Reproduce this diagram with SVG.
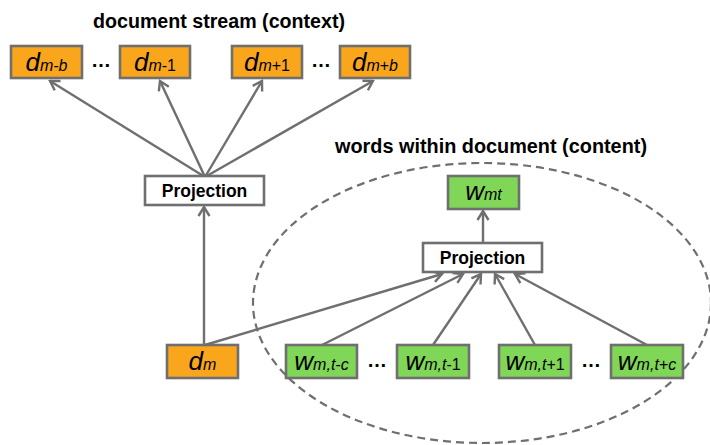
<svg xmlns="http://www.w3.org/2000/svg" width="710" height="445" viewBox="0 0 710 445">
<style>
.box{stroke:#6f6f6f;stroke-width:2.6}
.or{fill:#f9a61c}
.gr{fill:#80d657}
.wh{fill:#ffffff}
.lbl{font-family:"Liberation Sans",Arial,sans-serif;fill:#000}
.title{font-family:"Liberation Sans",Arial,sans-serif;font-weight:bold;font-size:19.5px;fill:#000}
.proj{font-family:"Liberation Sans",Arial,sans-serif;font-weight:bold;font-size:17.5px;fill:#000;text-anchor:middle}
.big{font-style:italic;font-size:26px}
.sub{font-size:16px}
.it{font-style:italic}
.dots{font-family:"Liberation Sans",Arial,sans-serif;font-size:20px;font-weight:bold;text-anchor:middle;fill:#000}
.conn line{stroke:#6f6f6f;stroke-width:2.4;marker-end:url(#arr)}
</style>
<defs>
<marker id="arr" markerUnits="userSpaceOnUse" viewBox="-12 -8 14 16" markerWidth="14" markerHeight="16" refX="0" refY="0" orient="auto">
<path d="M-9,-5.5 L0,0 L-9,5.5" fill="none" stroke="#6f6f6f" stroke-width="2.4"/>
</marker>
</defs>

<ellipse cx="482" cy="303" rx="229" ry="140" fill="none" stroke="#6f6f6f" stroke-width="2.2" stroke-dasharray="8,5"/>

<text class="title" x="93" y="28" textLength="252" lengthAdjust="spacingAndGlyphs">document stream (context)</text>
<text class="title" x="335" y="153" textLength="312" lengthAdjust="spacingAndGlyphs">words within document (content)</text>

<g class="conn">
<line x1="205" y1="177" x2="50" y2="81"/>
<line x1="205" y1="177" x2="160" y2="81"/>
<line x1="205" y1="177" x2="262" y2="81"/>
<line x1="205" y1="177" x2="373" y2="81"/>
<line x1="204" y1="345" x2="204" y2="207"/>
<line x1="205" y1="345" x2="442" y2="274"/>
<line x1="322" y1="345" x2="463" y2="274"/>
<line x1="433" y1="345" x2="481" y2="274"/>
<line x1="535" y1="345" x2="495" y2="274"/>
<line x1="647" y1="345" x2="515" y2="274"/>
<line x1="483" y1="243" x2="483" y2="211"/>
</g>

<g id="d_mb">
<rect class="box or" x="11" y="46" width="71" height="32"/>
<text class="lbl" x="46.5" y="71" text-anchor="middle"><tspan class="big">d</tspan><tspan class="sub it">m-b</tspan></text>
</g>
<g id="d_m1">
<rect class="box or" x="120" y="46" width="70" height="32"/>
<text class="lbl" x="155" y="71" text-anchor="middle"><tspan class="big">d</tspan><tspan class="sub it">m</tspan><tspan class="sub">-1</tspan></text>
</g>
<g id="d_p1">
<rect class="box or" x="232" y="46" width="70" height="32"/>
<text class="lbl" x="267" y="71" text-anchor="middle"><tspan class="big">d</tspan><tspan class="sub it">m</tspan><tspan class="sub">+1</tspan></text>
</g>
<g id="d_pb">
<rect class="box or" x="340" y="46" width="70" height="32"/>
<text class="lbl" x="375" y="71" text-anchor="middle"><tspan class="big">d</tspan><tspan class="sub it">m</tspan><tspan class="sub">+</tspan><tspan class="sub it">b</tspan></text>
</g>
<text class="dots" x="101" y="67">…</text>
<text class="dots" x="321" y="67">…</text>

<g id="proj1">
<rect class="box wh" x="145" y="176" width="119" height="29"/>
<text class="proj" x="204.5" y="197">Projection</text>
</g>

<g id="d_m">
<rect class="box or" x="167" y="345" width="71" height="33"/>
<text class="lbl" x="202.5" y="370" text-anchor="middle"><tspan class="big">d</tspan><tspan class="sub it">m</tspan></text>
</g>

<g id="w_mt">
<rect class="box gr" x="448" y="176" width="71" height="33"/>
<text class="lbl" x="483.5" y="200" text-anchor="middle"><tspan class="big">w</tspan><tspan class="sub it">mt</tspan></text>
</g>

<g id="proj2">
<rect class="box wh" x="423" y="243" width="119" height="29"/>
<text class="proj" x="482.5" y="264">Projection</text>
</g>

<g id="w_tc">
<rect class="box gr" x="286" y="345" width="71" height="33"/>
<text class="lbl" x="321.5" y="370" text-anchor="middle"><tspan class="big">w</tspan><tspan class="sub it">m,t-c</tspan></text>
</g>
<g id="w_t1">
<rect class="box gr" x="397" y="345" width="72" height="33"/>
<text class="lbl" x="433" y="370" text-anchor="middle"><tspan class="big">w</tspan><tspan class="sub it">m,t</tspan><tspan class="sub">-1</tspan></text>
</g>
<g id="w_p1">
<rect class="box gr" x="499" y="345" width="72" height="33"/>
<text class="lbl" x="535" y="370" text-anchor="middle"><tspan class="big">w</tspan><tspan class="sub it">m,t</tspan><tspan class="sub">+1</tspan></text>
</g>
<g id="w_pc">
<rect class="box gr" x="611" y="345" width="72" height="33"/>
<text class="lbl" x="647" y="370" text-anchor="middle"><tspan class="big">w</tspan><tspan class="sub it">m,t+c</tspan></text>
</g>
<text class="dots" x="377" y="367">…</text>
<text class="dots" x="591" y="367">…</text>
</svg>
